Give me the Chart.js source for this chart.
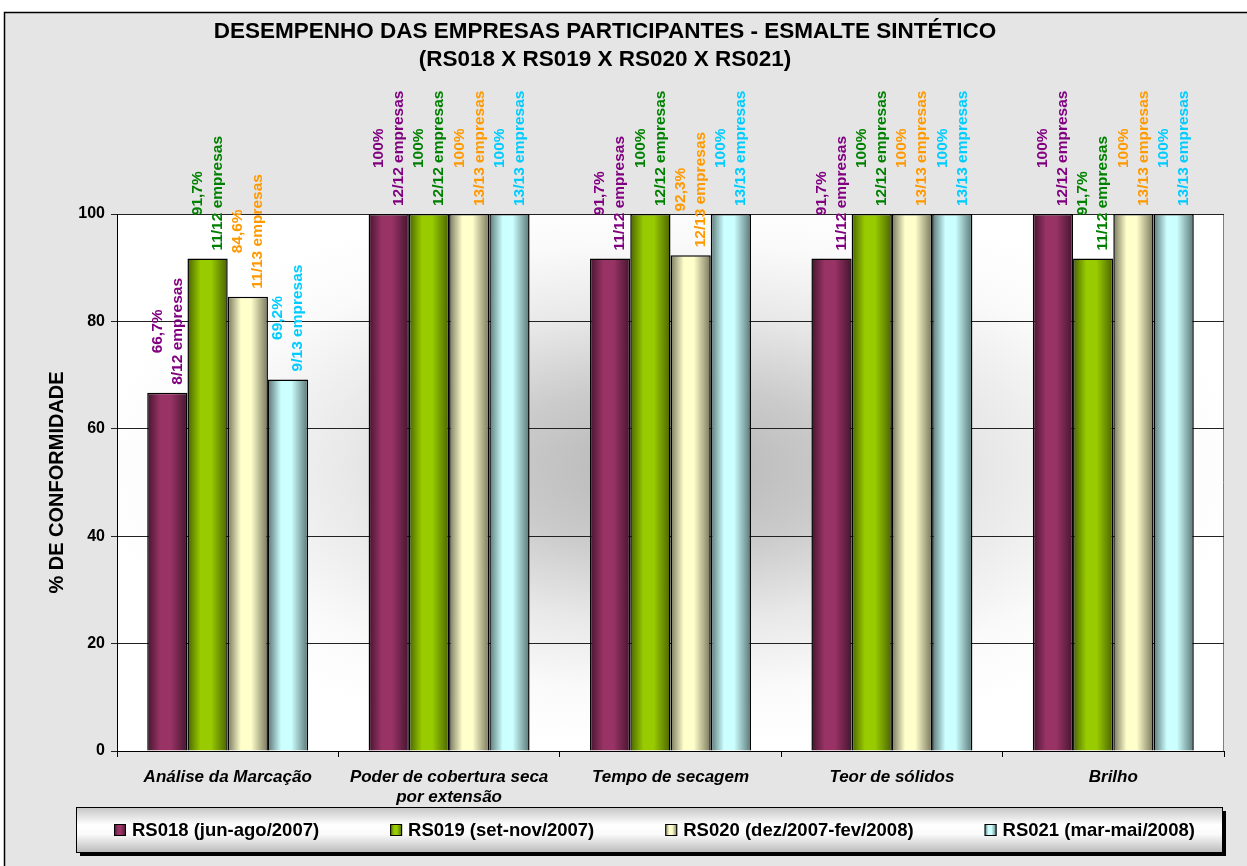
<!DOCTYPE html>
<html>
<head>
<meta charset="utf-8">
<script src="https://cdn.jsdelivr.net/npm/chart.js@4.4.0/dist/chart.umd.min.js"></script>
<style>
  html, body { margin: 0; padding: 0; background: #fff; }
</style>
</head>
<body>
<canvas id="canvas1" width="1247" height="866"></canvas>
<script>
// dados
const categorias = ['Análise da Marcação', ['Poder de cobertura seca', 'por extensão'], 'Tempo de secagem', 'Teor de sólidos', 'Brilho']
const series = ['RS018 (jun-ago/2007)', 'RS019 (set-nov/2007)', 'RS020 (dez/2007-fev/2008)', 'RS021 (mar-mai/2008)']
const rs018 = [66.7, 100, 91.7, 91.7, 100]
const rs019 = [91.7, 100, 100, 100, 91.7]
const rs020 = [84.6, 100, 92.3, 100, 100]
const rs021 = [69.2, 100, 100, 100, 100]
const emp018 = ['8/12', '12/12', '11/12', '11/12', '12/12']
const emp019 = ['11/12', '12/12', '12/12', '12/12', '11/12']
const emp020 = ['11/13', '13/13', '12/13', '13/13', '13/13']
const emp021 = ['9/13', '13/13', '13/13', '13/13', '13/13']
const yTicks = [0, 20, 40, 60, 80, 100]

const fonte = "'Liberation Sans', Arial, sans-serif"
Chart.defaults.font.family = fonte
Chart.defaults.color = '#000'

const cores = ['#993366', '#99cc00', '#ffffcc', '#ccffff']
const coresEscuras = ['#45152e', '#4a6300', '#77775c', '#5a7676']
const coresTexto = ['#800080', '#008000', '#ff9900', '#00ccff']
const catPct = 0.727

const fazGrad = (c, left, w, i) => {
  const g = c.createLinearGradient(left, 0, left + w, 0)
  g.addColorStop(0, coresEscuras[i])
  g.addColorStop(0.33, cores[i])
  g.addColorStop(0.58, cores[i])
  g.addColorStop(1, coresEscuras[i])
  return g
}

const gradBarra = (ctx) => {
  const i = ctx.datasetIndex
  const chart = ctx.chart
  const x = chart.scales.x
  if (ctx.type !== 'data' || !x || !chart.chartArea) return cores[i]
  const cw = x.width / chart.data.labels.length
  const gw = cw * catPct
  const bw = gw / chart.data.datasets.length
  const left = x.getPixelForValue(ctx.dataIndex) - gw / 2 + i * bw
  return fazGrad(chart.ctx, left, bw, i)
}

const fmtPct = v => (Number.isInteger(v) ? String(v) : v.toFixed(1).replace('.', ',')) + '%'

const fundo = {
  id: 'fundo',
  beforeDraw(chart) {
    const c = chart.ctx
    const a = chart.chartArea
    c.save()
    c.fillStyle = '#fff'
    c.fillRect(0, 0, chart.width, chart.height)
    c.fillStyle = '#e5e5e5'
    c.fillRect(4, 12, chart.width - 4, chart.height - 12)
    c.strokeStyle = '#000'
    c.lineWidth = 1.5
    c.beginPath()
    c.moveTo(4.5, chart.height)
    c.lineTo(4.5, 12.5)
    c.lineTo(chart.width, 12.5)
    c.stroke()
    // fundo da area de plotagem
    const cx = (a.left + a.right) / 2, cy = (a.top + a.bottom) / 2
    const rx = (a.right - a.left) / 2, ry = (a.bottom - a.top) / 2
    c.beginPath()
    c.rect(a.left, a.top, a.right - a.left, a.bottom - a.top)
    c.clip()
    c.translate(cx, cy)
    c.scale(rx / ry, 1)
    const g = c.createRadialGradient(0, -15, 0, 0, -15, ry * 1.05)
    g.addColorStop(0, '#b4b4b4')
    g.addColorStop(0.3, '#cbcbcb')
    g.addColorStop(0.55, '#e8e8e8')
    g.addColorStop(0.8, '#fafafa')
    g.addColorStop(1, '#ffffff')
    c.fillStyle = g
    c.fillRect(-ry * 1.5, -ry * 1.5, ry * 3, ry * 3)
    c.restore()
    c.save()
    c.strokeStyle = '#808080'
    c.lineWidth = 1
    c.beginPath()
    c.moveTo(Math.round(a.right) - 0.5, a.top)
    c.lineTo(Math.round(a.right) - 0.5, a.bottom)
    c.stroke()
    c.restore()
  }
}

const rotulos = {
  id: 'rotulos',
  afterDatasetsDraw(chart) {
    const c = chart.ctx
    const emps = [emp018, emp019, emp020, emp021]
    chart.data.datasets.forEach((ds, i) => {
      const meta = chart.getDatasetMeta(i)
      meta.data.forEach((bar, j) => {
        const linhas = [fmtPct(ds.data[j]), emps[i][j] + ' empresas']
        c.save()
        c.font = 'bold 15.5px ' + fonte
        c.fillStyle = coresTexto[i]
        const L = Math.max(...linhas.map(t => c.measureText(t).width))
        c.translate(bar.x, bar.y - 8)
        c.rotate(-Math.PI / 2)
        c.textAlign = 'center'
        c.textBaseline = 'middle'
        c.fillText(linhas[0], L / 2, -10)
        c.fillText(linhas[1], L / 2, 10)
        c.restore()
      })
    })
  }
}

const legenda = {
  id: 'legenda',
  afterDraw(chart) {
    const c = chart.ctx
    const top = chart.scales.x.bottom
    const h = 45, left = 76, right = 1222
    c.save()
    c.fillStyle = '#000'
    c.fillRect(left + 4, top + 4, right - left, h)
    const g = c.createLinearGradient(0, top, 0, top + h)
    g.addColorStop(0, '#c4c4c4')
    g.addColorStop(0.4, '#ffffff')
    g.addColorStop(0.6, '#fbfbfb')
    g.addColorStop(1, '#bcbcbc')
    c.fillStyle = g
    c.fillRect(left, top, right - left, h)
    c.strokeStyle = '#000'
    c.lineWidth = 1
    c.strokeRect(left + 0.5, top + 0.5, right - left, h)
    c.font = 'bold 18.5px ' + fonte
    c.textBaseline = 'middle'
    c.textAlign = 'left'
    let x = left + 38
    const y = Math.round(top + h / 2)
    series.forEach((s, i) => {
      c.fillStyle = fazGrad(c, x, 12, i)
      c.fillRect(x, y - 6, 12, 12)
      c.strokeRect(x + 0.5, y - 5.5, 11, 11)
      c.fillStyle = '#000'
      c.fillText(s, x + 18, y + 1)
      x += 18 + c.measureText(s).width + 71
    })
    c.restore()
  }
}

const valores = [rs018, rs019, rs020, rs021]
const ctx1 = document.getElementById('canvas1').getContext('2d')
const myChart = new Chart(ctx1, {
  type: 'bar',
  data: {
    labels: categorias,
    datasets: series.map((s, i) => ({
      label: s,
      data: valores[i],
      backgroundColor: gradBarra,
      borderColor: '#000',
      borderWidth: 1.5,
      categoryPercentage: catPct,
      barPercentage: 1
    }))
  },
  options: {
    responsive: false,
    animation: false,
    layout: { padding: { left: -14, right: 23, top: 0, bottom: 59 } },
    plugins: {
      legend: { display: false },
      tooltip: { enabled: false },
      title: {
        display: true,
        text: ['DESEMPENHO DAS EMPRESAS PARTICIPANTES - ESMALTE SINTÉTICO', '(RS018 X RS019 X RS020 X RS021)'],
        color: '#000',
        font: { size: 22.5, weight: 'bold', lineHeight: 28 / 22.5 },
        padding: { top: 18, bottom: 140 }
      }
    },
    scales: {
      x: {
        grid: { drawOnChartArea: false, tickLength: 6, color: '#000', offset: true },
        border: { color: '#000', width: 1 },
        ticks: { padding: 10, maxRotation: 0, autoSkip: false, font: { size: 17, weight: 'bold', style: 'italic' }, color: '#000' },
        afterFit(scale) { scale.height = 56 }
      },
      y: {
        min: yTicks[0],
        max: yTicks[yTicks.length - 1],
        afterBuildTicks(scale) { scale.ticks = yTicks.map(v => ({ value: v })) },
        grid: { color: '#222', tickLength: 6 },
        border: { color: '#000', width: 1 },
        ticks: { padding: 6, font: { size: 16, weight: 'bold' }, color: '#000' },
        title: {
          display: true,
          text: '% DE CONFORMIDADE',
          color: '#000',
          font: { size: 20, weight: 'bold' },
          padding: { top: 59, bottom: 0 }
        },
        afterFit(scale) { scale.width = 131 }
      }
    }
  },
  plugins: [fundo, rotulos, legenda]
})
</script>
</body>
</html>
